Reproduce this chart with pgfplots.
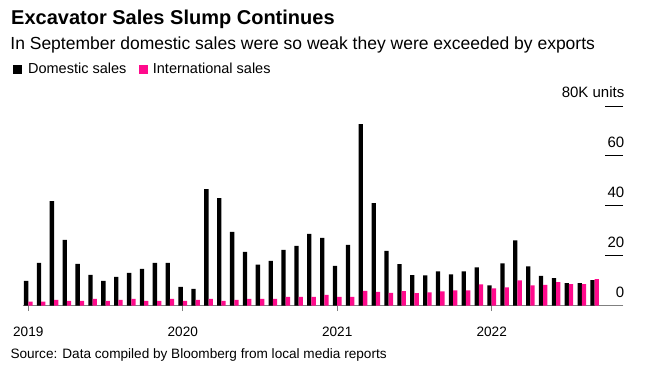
\documentclass[border=0pt]{standalone}
\usepackage{fontspec}
\setmainfont{Liberation Sans}
\usepackage{pgfplots}
\pgfplotsset{compat=1.18}
\definecolor{pinkbar}{RGB}{255,10,140}
\definecolor{basegray}{RGB}{128,128,128}
\begin{document}
\begin{tikzpicture}
\path[use as bounding box] (0pt,0pt) rectangle (650pt,367pt);
% y ticks (drawn first so the gray baseline covers the 0 tick)
\begin{axis}[
  at={(22.5pt,61.5pt)}, anchor=south west,
  scale only axis, width=600.5pt, height=199.5pt,
  xmin=-0.45, xmax=46.2, ymin=0, ymax=80,
  axis x line=none, axis y line=right,
  y axis line style={draw=none},
  ytick={0,20,40,60,80}, yticklabels={0,20,40,60,80K units},
  tick align=inside, major tick length=18pt,
  ytick style={draw=black, line width=0.9pt},
  yticklabel style={anchor=base east, inner sep=0pt, xshift=1.5pt, yshift=8pt,
    font=\fontsize{15}{18}\selectfont},
]
\end{axis}
\begin{axis}[
  at={(22.5pt,61.5pt)}, anchor=south west,
  scale only axis, width=600.5pt, height=199.5pt,
  xmin=-0.45, xmax=46.2, ymin=0, ymax=80,
  axis x line=bottom, axis y line=none,
  x axis line style={draw=basegray, line width=1.5pt, -},
  ybar=0pt, bar width=4.3pt,
  xtick={0,12,24,36}, xticklabels={2019,2020,2021,2022},
  tick align=outside, major tick length=5.5pt,
  xtick style={draw=basegray, line width=1.2pt},
  xticklabel style={anchor=base, inner sep=0pt, yshift=-25.5pt,
    font=\fontsize{13.6}{16}\selectfont},
]
\addplot[fill=black, draw=none] coordinates {
(0,9.9) (1,17.1) (2,41.9) (3,26.3) (4,16.7) (5,12.3) (6,9.9) (7,11.5) (8,13.1) (9,14.7) (10,17.1) (11,17.1)
(12,7.5) (13,6.7) (14,46.7) (15,43.1) (16,29.5) (17,21.5) (18,16.4) (19,17.9) (20,22.3) (21,23.9) (22,28.7) (23,27.1)
(24,15.9) (25,24.3) (26,72.7) (27,41.1) (28,21.9) (29,16.6) (30,12.2) (31,12.1) (32,13.7) (33,12.5) (34,13.7) (35,15.3)
(36,8.1) (37,16.9) (38,26.1) (39,15.7) (40,11.9) (41,11.0) (42,9.0) (43,9.0) (44,10.2)
};
\addplot[fill=pinkbar, draw=none] coordinates {
(0,1.6) (1,1.6) (2,2.3) (3,1.9) (4,1.9) (5,2.7) (6,1.9) (7,2.3) (8,2.7) (9,1.9) (10,1.9) (11,2.7)
(12,1.9) (13,2.3) (14,2.7) (15,1.9) (16,2.3) (17,2.7) (18,2.7) (19,2.7) (20,3.5) (21,3.5) (22,3.5) (23,4.3)
(24,3.5) (25,3.5) (26,5.9) (27,5.5) (28,5.1) (29,5.8) (30,5.0) (31,5.3) (32,5.7) (33,6.1) (34,6.1) (35,8.5)
(36,6.9) (37,7.3) (38,10.1) (39,8.1) (40,8.3) (41,9.4) (42,8.6) (43,8.6) (44,10.6)
};
\end{axis}
% titles, legend, source
\node[anchor=base west, inner sep=0pt] at (11pt,342pt) {\fontsize{20}{24}\selectfont\bfseries Excavator Sales Slump Continues};
\node[anchor=base west, inner sep=0pt] at (10.2pt,317pt) {\fontsize{17.5}{21}\selectfont In September domestic sales were so weak they were exceeded by exports};
\fill[black] (13.3pt,293pt) rectangle (22.3pt,302pt);
\node[anchor=base west, inner sep=0pt] at (27.9pt,293pt) {\fontsize{14.5}{17}\selectfont Domestic sales};
\fill[pinkbar] (139pt,293pt) rectangle (148pt,302pt);
\node[anchor=base west, inner sep=0pt] at (152.7pt,293pt) {\fontsize{14.5}{17}\selectfont International sales};
\node[anchor=base west, inner sep=0pt] at (10.3pt,8.7pt) {\fontsize{13.6}{16}\selectfont Source: Data compiled by Bloomberg from local media reports};
\end{tikzpicture}
\end{document}
